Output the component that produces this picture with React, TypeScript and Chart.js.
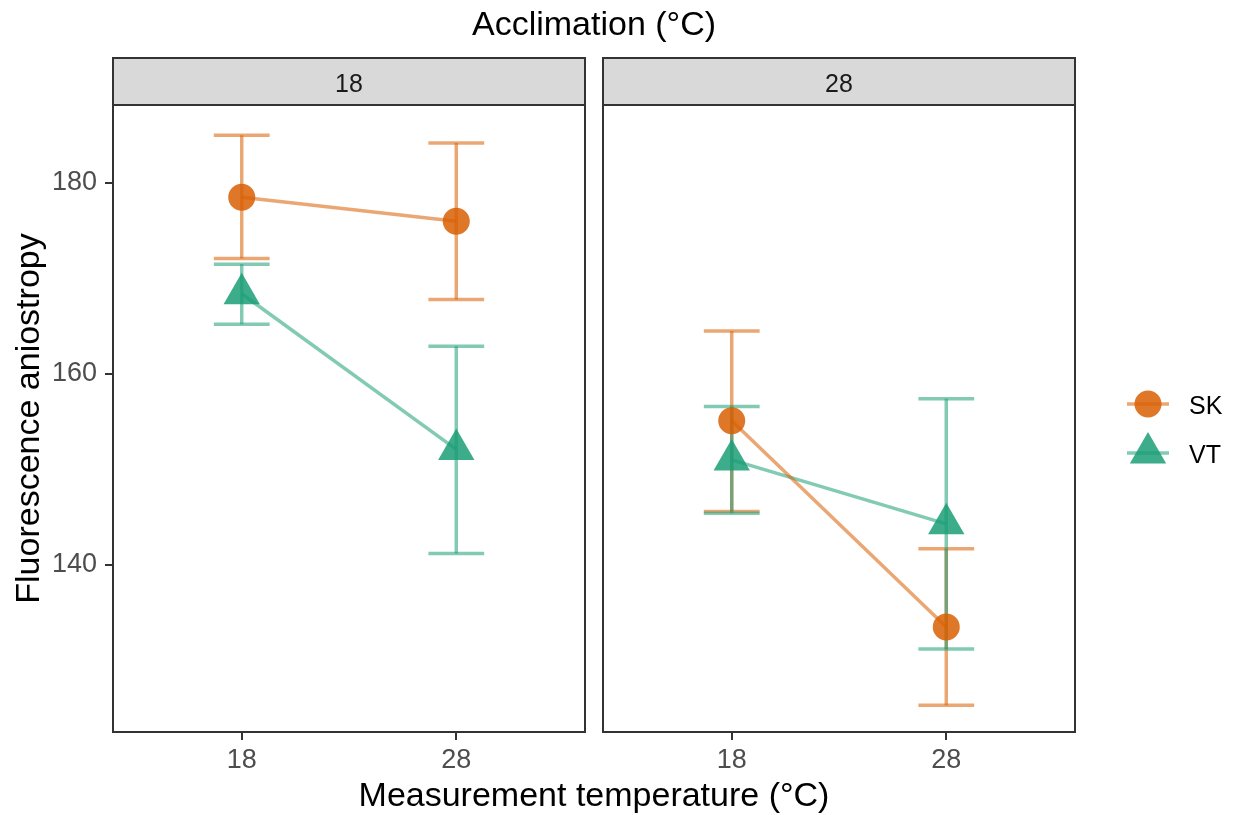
import React, { useEffect, useRef } from "react";
import { Chart, registerables } from "chart.js";

Chart.register(...registerables);

// ---- data ----
const measurementLabels = ["18", "28"];
const acclimationLabels = ["18", "28"];
const yTickValues = [140, 160, 180];
const groupNames = ["SK", "VT"];

// SK means / error limits, per acclimation panel (measurement 18, 28)
const skMeanAcc18 = [178.5, 176.0];
const skLowAcc18 = [172.1, 167.8];
const skHighAcc18 = [185.0, 184.2];
const skMeanAcc28 = [155.1, 133.5];
const skLowAcc28 = [145.6, 125.3];
const skHighAcc28 = [164.5, 141.7];

// VT
const vtMeanAcc18 = [168.4, 152.1];
const vtLowAcc18 = [165.2, 141.2];
const vtHighAcc18 = [171.5, 162.9];
const vtMeanAcc28 = [151.0, 144.3];
const vtLowAcc28 = [145.4, 131.2];
const vtHighAcc28 = [156.6, 157.4];

// ---- styling / layout constants ----
const FONT = "'Liberation Sans', Arial, Helvetica, sans-serif";
const PANEL_SPAN = 2.2; // 0.4 .. 2.6 for two discrete positions
const GAP_UNITS = 18 / (472 / 2.2);
const PANEL_OFFSET = PANEL_SPAN + GAP_UNITS;
const CAP_HALF = 0.13;
const Y_MIN = 122.5;
const Y_MAX = 188.17;

const SK_LINE = "rgba(217,95,2,0.55)";
const SK_POINT = "rgba(217,95,2,0.85)";
const VT_LINE = "rgba(27,158,119,0.55)";
const VT_POINT = "rgba(27,158,119,0.85)";

const groups = [
  {
    name: groupNames[0],
    line: SK_LINE,
    point: SK_POINT,
    style: "circle",
    radius: 13.5,
    panels: [
      { mean: skMeanAcc18, low: skLowAcc18, high: skHighAcc18 },
      { mean: skMeanAcc28, low: skLowAcc28, high: skHighAcc28 },
    ],
  },
  {
    name: groupNames[1],
    line: VT_LINE,
    point: VT_POINT,
    style: "triangle",
    radius: 21,
    panels: [
      { mean: vtMeanAcc18, low: vtLowAcc18, high: vtHighAcc18 },
      { mean: vtMeanAcc28, low: vtLowAcc28, high: vtHighAcc28 },
    ],
  },
];

const xPos = (panel: number, i: number) => 1 + i + panel * PANEL_OFFSET;

function drawMarker(ctx: CanvasRenderingContext2D, style: string, x: number, y: number, r: number, color: string) {
  ctx.save();
  ctx.fillStyle = color;
  ctx.beginPath();
  if (style === "circle") {
    ctx.arc(x, y, r, 0, Math.PI * 2);
  } else {
    let a = 0;
    ctx.moveTo(x + Math.sin(a) * r, y - Math.cos(a) * r);
    a += (2 * Math.PI) / 3;
    ctx.lineTo(x + Math.sin(a) * r, y - Math.cos(a) * r);
    a += (2 * Math.PI) / 3;
    ctx.lineTo(x + Math.sin(a) * r, y - Math.cos(a) * r);
    ctx.closePath();
  }
  ctx.fill();
  ctx.restore();
}

const facetPlugin = {
  id: "facetPlugin",
  beforeDatasetsDraw(chart: any) {
    const ctx: CanvasRenderingContext2D = chart.ctx;
    const xs = chart.scales.x;
    const ys = chart.scales.y;
    ctx.save();
    ctx.lineWidth = 3.5;
    ctx.lineCap = "butt";
    groups.forEach((g) => {
      g.panels.forEach((p, pi) => {
        p.mean.forEach((_, i) => {
          const xv = xPos(pi, i);
          const x = xs.getPixelForValue(xv);
          const xl = xs.getPixelForValue(xv - CAP_HALF);
          const xr = xs.getPixelForValue(xv + CAP_HALF);
          const yl = ys.getPixelForValue(p.low[i]);
          const yh = ys.getPixelForValue(p.high[i]);
          ctx.strokeStyle = g.line;
          ctx.beginPath();
          ctx.moveTo(x, yh);
          ctx.lineTo(x, yl);
          ctx.stroke();
          ctx.beginPath();
          ctx.moveTo(xl, yh);
          ctx.lineTo(xr, yh);
          ctx.stroke();
          ctx.beginPath();
          ctx.moveTo(xl, yl);
          ctx.lineTo(xr, yl);
          ctx.stroke();
        });
      });
    });
    ctx.restore();
  },
  afterDraw(chart: any) {
    const ctx: CanvasRenderingContext2D = chart.ctx;
    const xs = chart.scales.x;
    const area = chart.chartArea;
    const stripH = 47;
    ctx.save();
    acclimationLabels.forEach((lab, pi) => {
      const left = xs.getPixelForValue(0.4 + pi * PANEL_OFFSET);
      const right = xs.getPixelForValue(0.4 + PANEL_SPAN + pi * PANEL_OFFSET);
      // strip
      ctx.fillStyle = "#D9D9D9";
      ctx.fillRect(left, area.top - stripH, right - left, stripH);
      ctx.strokeStyle = "#333333";
      ctx.lineWidth = 2;
      ctx.strokeRect(left, area.top - stripH, right - left, stripH);
      ctx.fillStyle = "#1A1A1A";
      ctx.font = `25px ${FONT}`;
      ctx.textAlign = "center";
      ctx.textBaseline = "alphabetic";
      ctx.fillText(lab, (left + right) / 2, area.top - 13);
      // panel border
      ctx.strokeRect(left, area.top, right - left, area.bottom - area.top);
    });
    // facet title
    ctx.fillStyle = "#000000";
    ctx.font = `34px ${FONT}`;
    ctx.textAlign = "center";
    ctx.textBaseline = "alphabetic";
    ctx.fillText("Acclimation (°C)", (area.left + area.right) / 2, 35);
    // legend
    const keyX = 1148;
    const rowsY = [404, 453];
    groups.forEach((g, gi) => {
      const y = rowsY[gi];
      ctx.strokeStyle = g.line;
      ctx.lineWidth = 3.5;
      ctx.beginPath();
      ctx.moveTo(keyX - 21, y);
      ctx.lineTo(keyX + 21, y);
      ctx.stroke();
      drawMarker(ctx, g.style, keyX, y, g.radius, g.point);
      ctx.fillStyle = "#000000";
      ctx.font = `25px ${FONT}`;
      ctx.textAlign = "left";
      ctx.textBaseline = "alphabetic";
      ctx.fillText(g.name, 1189, y + 10);
    });
    ctx.restore();
  },
};

export default function App() {
  const canvasRef = useRef<HTMLCanvasElement | null>(null);

  useEffect(() => {
    if (!canvasRef.current) return;
    const datasets: any[] = [];
    groups.forEach((g) => {
      g.panels.forEach((p, pi) => {
        datasets.push({
          label: `${g.name} ${acclimationLabels[pi]}`,
          data: p.mean.map((m, i) => ({ x: xPos(pi, i), y: m })),
          borderColor: g.line,
          borderWidth: 3.5,
          backgroundColor: g.point,
          pointBackgroundColor: g.point,
          pointBorderWidth: 0,
          pointBorderColor: "rgba(0,0,0,0)",
          pointStyle: g.style,
          pointRadius: g.radius,
          pointHoverRadius: g.radius,
          fill: false,
          tension: 0,
        });
      });
    });

    const chart = new Chart(canvasRef.current, {
      type: "line",
      data: { datasets },
      plugins: [facetPlugin],
      options: {
        responsive: false,
        maintainAspectRatio: false,
        animation: false,
        devicePixelRatio: 1,
        events: [],
        layout: { padding: { left: 0, right: 160, top: 105, bottom: 0 } },
        plugins: {
          legend: { display: false },
          tooltip: { enabled: false },
          title: { display: false },
        },
        scales: {
          x: {
            type: "linear",
            min: 0.4,
            max: 0.4 + PANEL_SPAN + PANEL_OFFSET,
            afterBuildTicks: (scale: any) => {
              const t: any[] = [];
              acclimationLabels.forEach((_, pi) =>
                measurementLabels.forEach((__, i) => t.push({ value: xPos(pi, i) }))
              );
              scale.ticks = t;
            },
            afterFit: (scale: any) => {
              scale.height = 83;
            },
            ticks: {
              autoSkip: false,
              maxRotation: 0,
              padding: 4,
              color: "#4D4D4D",
              font: { family: FONT, size: 27 },
              callback: (value: any) => {
                const v = Number(value);
                const pi = v > 2.5 ? 1 : 0;
                const i = Math.round(v - pi * PANEL_OFFSET) - 1;
                return measurementLabels[i];
              },
            },
            grid: {
              drawOnChartArea: false,
              drawTicks: true,
              tickLength: 8,
              color: "#333333",
              lineWidth: 2,
            },
            border: { display: false },
            title: {
              display: true,
              text: "Measurement temperature (°C)",
              color: "#000000",
              font: { family: FONT, size: 34, lineHeight: 1 },
              padding: { top: 0, bottom: 1 },
            },
          },
          y: {
            type: "linear",
            min: Y_MIN,
            max: Y_MAX,
            afterBuildTicks: (scale: any) => {
              scale.ticks = yTickValues.map((v) => ({ value: v }));
            },
            afterFit: (scale: any) => {
              scale.width = 113;
            },
            ticks: {
              padding: 8,
              color: "#4D4D4D",
              font: { family: FONT, size: 27 },
            },
            grid: {
              drawOnChartArea: false,
              drawTicks: true,
              tickLength: 8,
              color: "#333333",
              lineWidth: 2,
            },
            border: { display: false },
            title: {
              display: true,
              text: "Fluorescence aniostropy",
              color: "#000000",
              font: { family: FONT, size: 34, lineHeight: 1 },
              padding: { top: 13, bottom: 0 },
            },
          },
        },
      } as any,
    });
    return () => chart.destroy();
  }, []);

  return (
    <div style={{ position: "absolute", left: 0, top: 0, width: 1235, height: 815, background: "#ffffff" }}>
      <canvas ref={canvasRef} width={1235} height={815} style={{ display: "block" }} />
    </div>
  );
}
